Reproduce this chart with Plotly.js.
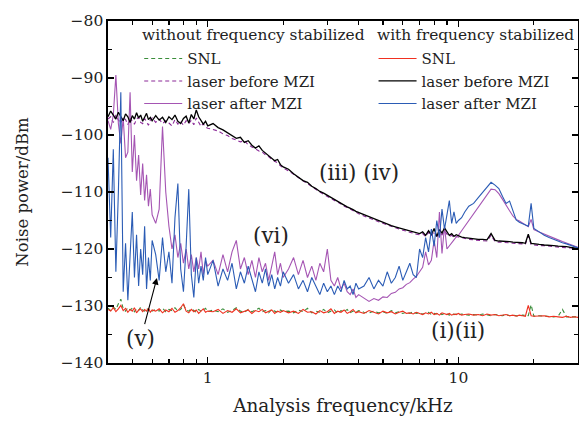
<!DOCTYPE html>
<html>
<head>
<meta charset="utf-8">
<script src="https://cdn.plot.ly/plotly-3.0.1.min.js"></script>
<style>html,body{margin:0;padding:0;background:#fff;}#chart{width:579px;height:421px;}</style>
</head>
<body>
<div id="chart"></div>
<script>
// Analysis frequency grid (kHz)
const freq = [
0.40,0.41,0.42,0.43,0.44,0.45,0.46,0.47,0.48,0.49,0.50,0.51,0.52,0.53,0.54,0.55,0.56,0.57,0.58,0.59,0.60,
0.62,0.64,0.66,0.68,0.70,0.72,0.74,0.76,0.78,0.80,0.82,0.84,0.86,0.88,0.90,0.92,0.94,0.96,0.98,1.00,
1.05,1.10,1.15,1.20,1.25,1.30,1.35,1.40,1.45,1.50,1.55,1.60,1.65,1.70,1.75,1.80,1.85,1.90,1.95,2.00,
2.1,2.2,2.3,2.4,2.5,2.6,2.7,2.8,2.9,3.0,3.1,3.2,3.3,3.4,3.5,3.6,3.7,3.8,3.9,4.0,
4.2,4.4,4.6,4.8,5.0,5.2,5.4,5.6,5.8,6.0,6.2,6.4,6.6,6.8,
7.0,7.2,7.4,7.6,7.8,8.0,8.2,8.4,8.6,8.8,9.0,9.2,9.4,9.6,9.8,10.0,10.3,10.6,11.0,
11.5,12,12.5,13,13.5,14,14.5,15,15.5,16,16.5,17,17.5,18,18.5,19,19.5,20,
21,22,23,24,25,26,27,28,29,30];

// without frequency stabilized
const snlWithout = [
-130.4,-130.8,-130.2,-130.6,-129.6,-128.8,-130.5,-130.9,-130.3,-130.7,-130.4,-131.0,-130.5,-130.8,-130.2,-130.7,-130.9,-130.4,-130.8,-130.5,-130.9,
-130.6,-130.9,-130.4,-131.0,-130.6,-130.8,-130.3,-130.9,-130.6,-129.8,-130.7,-130.9,-130.5,-130.8,-131.1,-130.6,-130.9,-130.7,-130.4,-131.0,
-130.7,-131.0,-130.5,-131.1,-130.8,-130.3,-130.9,-131.1,-130.6,-131.0,-130.7,-130.4,-131.0,-130.8,-131.2,-130.6,-130.9,-131.1,-130.7,-131.0,
-130.9,-131.2,-130.7,-131.0,-130.4,-131.2,-130.9,-131.1,-130.6,-131.2,-130.9,-130.7,-131.3,-130.8,-131.0,-130.6,-131.2,-130.9,-131.1,-130.8,
-131.1,-131.2,-130.9,-131.2,-131.0,-131.3,-130.8,-131.2,-131.0,-131.3,-131.1,-131.3,-131.0,-131.3,
-131.2,-131.4,-131.3,-131.1,-131.5,-131.3,-131.4,-131.2,-131.5,-131.3,-131.4,-131.6,-131.3,-131.5,-131.4,-131.6,-131.4,-131.5,-131.6,
-131.5,-131.6,-131.4,-131.6,-131.7,-131.5,-131.6,-131.7,-131.5,-131.7,-131.6,-131.7,-131.8,-131.6,-131.7,-131.7,-129.8,-131.8,
-131.7,-131.8,-131.8,-131.9,-131.8,-130.6,-131.9,-131.9,-132.0,-131.9];

const beforeWithout = [
-97.2,-96.8,-97.8,-96.5,-97.4,-97.9,-96.9,-97.3,-98.2,-97.0,-97.6,-98.1,-97.2,-96.9,-97.8,-98.0,-97.1,-97.7,-98.3,-97.4,-97.0,
-97.8,-97.2,-98.0,-97.5,-97.9,-98.4,-97.3,-98.1,-97.6,-98.3,-97.5,-98.0,-97.4,-98.2,-97.0,-97.8,-98.5,-98.0,-98.6,-98.8,
-99.0,-99.3,-99.8,-100.1,-100.6,-100.9,-101.2,-101.0,-101.7,-102.1,-102.5,-102.8,-103.0,-103.5,-103.8,-104.3,-104.6,-104.9,-105.4,-105.8,
-106.3,-106.9,-107.6,-108.1,-108.6,-109.1,-109.6,-110.0,-110.4,-110.8,-111.1,-111.5,-111.8,-112.1,-112.5,-112.7,-113.0,-113.3,-113.5,-113.8,
-114.2,-114.5,-114.9,-115.2,-115.5,-115.8,-116.0,-116.3,-116.5,-116.7,-116.9,-117.1,-117.2,-117.4,
-117.5,-117.3,-117.8,-117.1,-117.7,-116.9,-118.0,-117.0,-117.5,-116.8,-117.4,-117.8,-117.6,-118.0,-117.8,-117.9,-118.1,-118.2,-118.3,
-118.4,-118.5,-118.5,-118.6,-117.6,-118.7,-118.8,-118.8,-118.9,-118.9,-119.0,-119.0,-119.1,-119.1,-119.2,-117.7,-119.2,-119.3,
-119.4,-119.4,-119.5,-119.6,-119.6,-119.7,-119.8,-119.8,-119.9,-120.0];

const afterWithout = [
-97.5,-99.0,-96.5,-89.5,-98.0,-101.5,-97.0,-104.0,-103.0,-92.5,-106.5,-100.0,-108.0,-103.5,-110.5,-105.0,-111.5,-107.0,-112.5,-109.5,-114.0,
-115.5,-113.0,-98.5,-110.0,-116.0,-120.0,-117.5,-121.5,-119.0,-122.5,-120.0,-123.5,-121.0,-124.0,-121.5,-123.5,-120.5,-124.5,-122.0,-123.0,
-122.0,-124.5,-121.0,-124.0,-120.5,-118.5,-123.5,-121.5,-124.5,-122.0,-125.0,-121.5,-124.0,-122.5,-125.5,-123.0,-120.5,-124.5,-122.5,-125.0,
-123.5,-121.5,-124.5,-122.0,-125.0,-123.0,-125.5,-122.5,-124.0,-120.0,-125.5,-126.5,-125.0,-127.0,-126.0,-127.5,-128.0,-127.0,-128.5,-128.0,
-128.6,-129.2,-128.7,-129.0,-128.4,-128.5,-127.8,-127.6,-127.0,-126.8,-126.2,-125.9,-125.3,-124.8,
-124.0,-123.2,-120.5,-122.8,-122.0,-118.5,-121.5,-113.5,-120.8,-116.0,-120.0,-119.4,-118.8,-118.4,-117.9,-117.6,-116.8,-116.0,-115.0,
-113.8,-112.6,-111.5,-110.4,-109.5,-109.6,-110.3,-111.3,-112.2,-113.3,-114.2,-114.8,-115.1,-115.4,-115.8,-116.1,-114.8,-116.6,
-117.0,-117.4,-117.8,-118.1,-118.4,-118.7,-119.0,-119.2,-119.5,-119.7];

// with frequency stabilized
const snlWith = [
-130.6,-130.9,-130.3,-131.0,-130.5,-129.9,-130.8,-130.4,-131.1,-130.6,-130.9,-130.3,-131.2,-130.7,-130.5,-131.0,-130.6,-130.9,-130.4,-131.1,-130.7,
-130.9,-130.5,-131.2,-130.7,-131.0,-130.4,-131.1,-130.8,-130.3,-129.6,-130.9,-131.2,-130.6,-131.0,-130.7,-131.3,-130.8,-130.5,-131.1,-130.9,
-131.0,-130.6,-131.3,-130.8,-131.1,-130.5,-131.2,-130.9,-130.7,-131.3,-130.8,-131.0,-130.6,-131.2,-131.0,-130.7,-131.3,-130.9,-131.1,-130.8,
-131.2,-130.9,-131.3,-130.6,-131.1,-131.0,-131.4,-130.8,-131.2,-131.0,-130.5,-131.3,-130.9,-131.1,-130.7,-131.3,-131.0,-130.6,-131.2,-131.0,
-131.3,-130.8,-131.1,-131.4,-130.9,-131.2,-131.0,-131.4,-131.1,-130.9,-131.3,-131.2,-131.4,-131.1,
-131.3,-131.5,-131.2,-131.4,-131.1,-131.5,-131.3,-131.6,-131.2,-131.4,-131.5,-131.3,-131.6,-131.4,-131.5,-131.3,-131.6,-131.5,-131.4,
-131.6,-131.5,-131.7,-131.4,-131.6,-131.5,-131.7,-131.6,-131.5,-131.7,-131.6,-131.8,-131.6,-131.7,-131.8,-129.9,-131.7,-131.8,
-131.8,-131.7,-131.9,-131.8,-131.9,-132.0,-131.8,-132.0,-131.9,-132.0];

const beforeWith = [
-96.8,-95.8,-96.5,-97.2,-96.0,-96.9,-97.5,-96.3,-96.8,-97.8,-96.6,-97.2,-96.1,-97.0,-96.5,-97.6,-96.8,-96.2,-97.3,-96.9,-97.5,
-96.6,-97.4,-96.9,-97.8,-96.8,-97.3,-96.5,-97.6,-98.0,-97.1,-96.7,-97.9,-96.4,-97.2,-95.6,-96.8,-97.4,-98.1,-97.6,-98.4,
-98.0,-98.7,-99.1,-99.6,-100.2,-100.6,-100.4,-101.3,-101.0,-101.8,-102.3,-101.9,-102.7,-103.2,-103.6,-104.0,-104.5,-104.3,-105.2,-105.6,
-106.0,-106.8,-107.4,-108.0,-108.3,-109.0,-109.4,-109.9,-110.2,-110.6,-111.0,-111.3,-111.6,-112.0,-112.3,-112.6,-112.8,-113.1,-113.4,-113.6,
-114.0,-114.4,-114.7,-115.0,-115.4,-115.6,-115.9,-116.1,-116.3,-116.5,-116.7,-116.9,-117.0,-117.2,
-117.3,-117.0,-117.6,-116.8,-117.5,-116.4,-117.8,-116.6,-117.2,-116.3,-117.0,-117.6,-117.3,-117.8,-117.5,-117.7,-117.9,-118.0,-118.1,
-118.2,-118.3,-118.3,-118.4,-117.3,-118.5,-118.6,-118.6,-118.7,-118.7,-118.8,-118.8,-118.9,-118.9,-119.0,-117.4,-119.0,-119.1,
-119.2,-119.3,-119.3,-119.4,-119.5,-119.5,-119.6,-119.7,-119.8,-119.9];

const afterWith = [
-104.0,-118.0,-102.5,-124.0,-110.0,-92.5,-127.5,-119.0,-129.0,-121.0,-113.5,-125.0,-117.5,-126.5,-120.0,-124.5,-116.0,-127.0,-121.5,-125.5,-118.5,
-121.0,-125.5,-118.0,-124.0,-120.5,-126.0,-114.5,-108.5,-123.5,-127.5,-119.5,-109.5,-124.5,-128.5,-121.5,-126.0,-123.0,-125.5,-121.5,-124.5,
-122.0,-126.5,-123.5,-125.5,-122.5,-127.0,-124.0,-126.0,-123.0,-125.5,-127.5,-124.0,-126.0,-123.5,-126.5,-124.5,-127.0,-125.0,-126.5,-124.0,
-126.0,-124.5,-127.0,-125.5,-127.5,-125.0,-126.5,-128.0,-126.0,-127.5,-126.5,-128.0,-126.5,-127.5,-125.5,-127.0,-126.5,-128.0,-126.0,-127.0,
-126.5,-125.0,-127.0,-125.5,-126.5,-124.0,-126.0,-125.0,-123.0,-125.5,-124.0,-122.5,-124.5,-125.0,
-120.0,-121.5,-118.0,-120.5,-116.5,-119.5,-115.0,-118.0,-113.0,-116.5,-114.0,-111.5,-115.5,-113.5,-115.5,-115.0,-114.5,-113.5,-112.5,
-112.0,-111.0,-110.0,-109.2,-108.3,-108.8,-109.4,-110.8,-112.0,-111.6,-113.2,-114.9,-115.3,-115.5,-115.7,-116.0,-112.0,-116.4,
-117.0,-117.6,-118.0,-118.3,-118.7,-118.9,-119.1,-119.3,-119.5,-119.8];

const legendTitles = ["without frequency stabilized", "with frequency stabilized"];
const seriesNames = ["SNL", "laser before MZI", "laser after MZI"];

const serif = "DejaVu Serif, Liberation Serif, serif";
const lw = 1.1;
const txt = "#222";

const traces = [
  {x: freq, y: snlWithout, name: seriesNames[0], legend: "legend",
   line: {color: "#3a8d3a", width: lw, dash: "4px,3px"}},
  {x: freq, y: beforeWithout, name: seriesNames[1], legend: "legend",
   line: {color: "#8b2a98", width: lw, dash: "4px,3px"}},
  {x: freq, y: afterWithout, name: seriesNames[2], legend: "legend",
   line: {color: "#a555b3", width: lw}},
  {x: freq, y: snlWith, name: seriesNames[0], legend: "legend2",
   line: {color: "#f03020", width: lw}},
  {x: freq, y: beforeWith, name: seriesNames[1], legend: "legend2",
   line: {color: "#000000", width: 1.3}},
  {x: freq, y: afterWith, name: seriesNames[2], legend: "legend2",
   line: {color: "#2b5cb5", width: lw}}
].map(t => Object.assign({type: "scatter", mode: "lines"}, t));

function mkLegend(xpos) {
  return {
    bgcolor: "rgba(0,0,0,0)", borderwidth: 0, xanchor: "left", yanchor: "top",
    x: xpos, y: 0.938,
    font: {family: serif, size: 15, color: txt}, itemwidth: 38, tracegroupgap: 0
  };
}

const annFont = {family: serif, size: 21.5, color: txt};
const legTitleFont = {family: serif, size: 15.4, color: txt};

const layout = {
  width: 579, height: 421,
  margin: {l: 108, r: 1, t: 21, b: 58},
  paper_bgcolor: "#fff", plot_bgcolor: "#fff",
  font: {family: serif, color: txt},
  showlegend: true,
  legend: mkLegend(0.0664),
  legend2: mkLegend(0.565),
  xaxis: {
    type: "log", range: [Math.log10(0.4), Math.log10(30)],
    tickvals: [1, 10], ticktext: ["1", "10"],
    ticks: "inside", ticklen: 6, tickwidth: 1.3, tickcolor: "#000",
    minor: {tickvals: [0.5,0.6,0.7,0.8,0.9,2,3,4,5,6,7,8,9,20], ticks: "inside", ticklen: 4, tickwidth: 1.2, tickcolor: "#000"},
    showline: true, linecolor: "#000", linewidth: 1.6, mirror: "allticks",
    showgrid: false, zeroline: false,
    tickfont: {family: serif, size: 15.5, color: txt},
    title: {text: "Analysis frequency/kHz", font: {family: serif, size: 18.4, color: txt}, standoff: 13}
  },
  yaxis: {
    range: [-140, -80],
    tickvals: [-140, -130, -120, -110, -100, -90, -80],
    ticktext: ["\u2212140", "\u2212130", "\u2212120", "\u2212110", "\u2212100", "\u221290", "\u221280"],
    ticks: "inside", ticklen: 6, tickwidth: 1.3, tickcolor: "#000",
    minor: {dtick: 5, ticks: "inside", ticklen: 4, tickwidth: 1.2, tickcolor: "#000"},
    showline: true, linecolor: "#000", linewidth: 1.6, mirror: "allticks",
    showgrid: false, zeroline: false,
    tickfont: {family: serif, size: 15.5, color: txt},
    title: {text: "Noise power/dBm", font: {family: serif, size: 16.5, color: txt}, standoff: 28}
  },
  annotations: [
    {xref: "paper", yref: "paper", x: 0.068, y: 0.958, xanchor: "left", yanchor: "middle",
     text: legendTitles[0], showarrow: false, font: legTitleFont},
    {xref: "paper", yref: "paper", x: 0.568, y: 0.958, xanchor: "left", yanchor: "middle",
     text: legendTitles[1], showarrow: false, font: legTitleFont},
    {x: Math.log10(4.0), y: -106.5, text: "(iii) (iv)", showarrow: false, font: annFont},
    {x: Math.log10(1.78), y: -117.6, text: "(vi)", showarrow: false, font: annFont},
    {x: Math.log10(10), y: -134.3, text: "(i)(ii)", showarrow: false, font: annFont},
    {x: Math.log10(0.627), y: -125.1, text: "(v)", showarrow: true, arrowhead: 2, arrowsize: 1.2, arrowwidth: 1.1,
     arrowcolor: "#000", ax: -16, ay: 60, standoff: 0, font: annFont}
  ]
};

Plotly.newPlot("chart", traces, layout, {displayModeBar: false, staticPlot: true});
</script>
</body>
</html>
